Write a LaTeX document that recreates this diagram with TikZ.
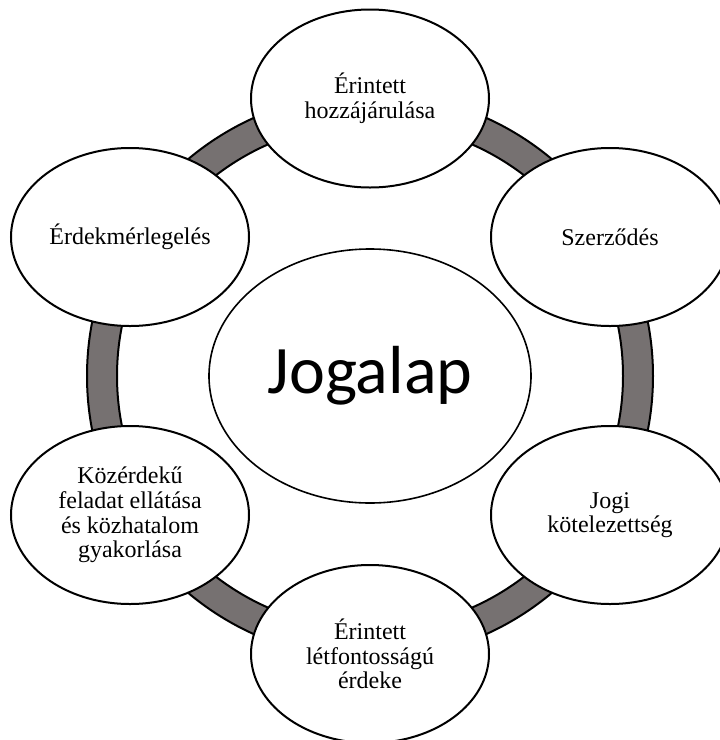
\documentclass[tikz,border=0pt]{standalone}
\usepackage{fontspec}
\setmainfont{Liberation Serif}
\newfontfamily\jogfont{Carlito}
\usetikzlibrary{shapes.geometric}
\definecolor{ringgray}{RGB}{118,113,113}
\begin{document}
\begin{tikzpicture}[x=1pt,y=-1pt,
  ring/.style={draw=black, line width=2pt, fill=ringgray, even odd rule},
  petal/.style={ellipse, draw=black, line width=2pt, fill=white, minimum width=238pt, minimum height=178pt, inner sep=0pt, align=center, font=\fontsize{24}{24.7}\selectfont},
  hub/.style={ellipse, draw=black, line width=1.6pt, fill=white, minimum width=322pt, minimum height=254pt, inner sep=0pt, font=\jogfont\fontsize{68}{70}\selectfont}]
\useasboundingbox (0,0) rectangle (720,740);
\clip (0,0) rectangle (720,740);
\coordinate (c) at (370,376);
\path[ring] (c) circle[radius=283] (c) circle[radius=253];
\node[petal] (top) at (370,98.5) {Érintett\\hozzájárulása};
\node[petal] (ur) at (610,237) {Szerződés};
\node[petal] (lr) at (610,515) {Jogi\\kötelezettség};
\node[petal] (bot) at (370,654) {Érintett\\létfontosságú\\érdeke};
\node[petal] (ll) at (130,515) {Közérdekű\\feladat ellátása\\és közhatalom\\gyakorlása};
\node[petal] (ul) at (130,237) {Érdekmérlegelés};
\node[hub] (hub) at (370,376) {Jogalap};
\end{tikzpicture}
\end{document}
